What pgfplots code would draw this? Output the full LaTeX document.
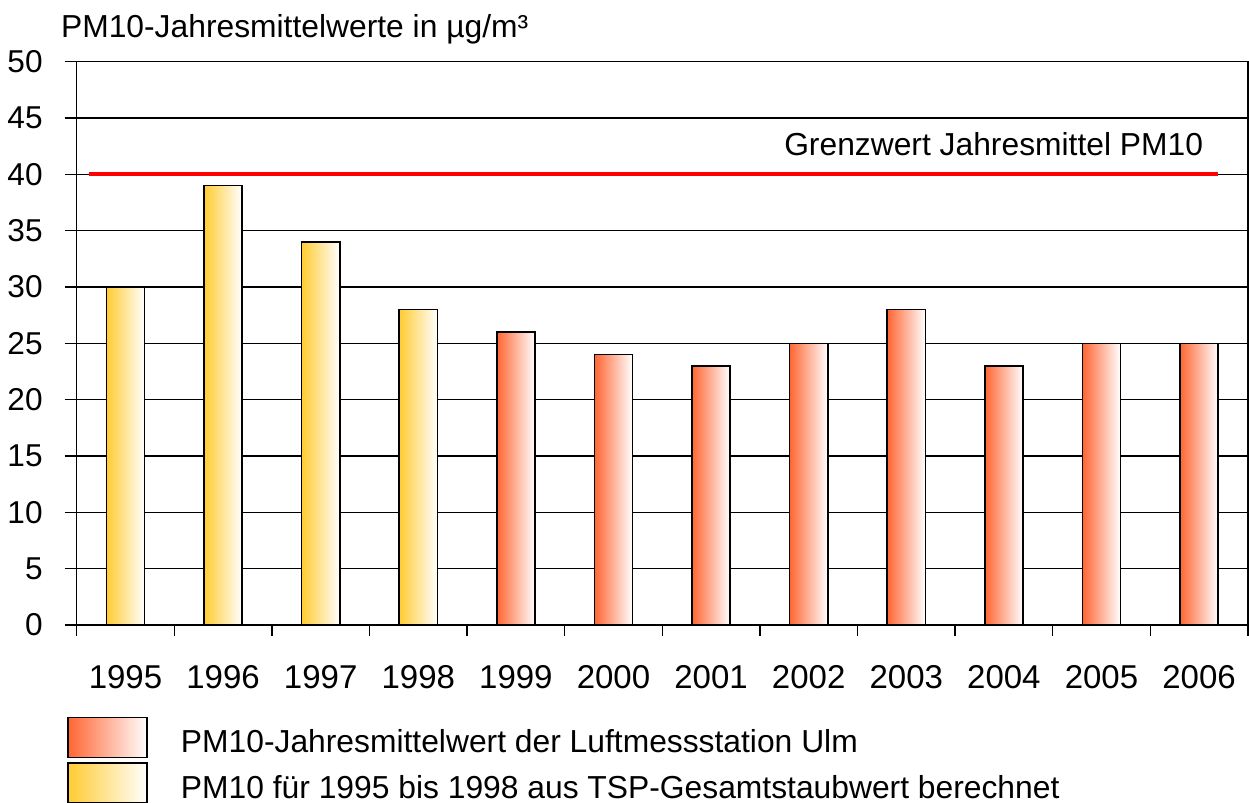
\documentclass[border=0pt]{standalone}
\usepackage{fontspec}
\setmainfont{Liberation Sans}
\usepackage{pgfplots}
\pgfplotsset{compat=1.18}
\definecolor{baror}{RGB}{255,102,51}
\definecolor{barye}{RGB}{255,204,51}
\definecolor{limred}{RGB}{255,0,0}
\pgfplotsset{
  mylegend/.style={legend image code/.code={\draw[draw=black,line width=0.8pt,left color=#1,right color=white] (0pt,-7.5pt) rectangle (39.5pt,12.5pt);}},
  orbar/.style={ybar, bar width=0.39, bar shift=0pt, draw=black, line width=0.8pt, left color=baror, right color=white, mylegend=baror},
  yebar/.style={ybar, bar width=0.39, bar shift=0pt, draw=black, line width=0.8pt, left color=barye, right color=white, mylegend=barye},
}
\begin{document}
\begin{tikzpicture}
\begin{axis}[
  scale only axis, width=585.6pt, height=281.65pt,
  clip=false,
  xmin=-0.5, xmax=11.5, ymin=0, ymax=50,
  xtick={0,...,11},
  xticklabels={1995,1996,1997,1998,1999,2000,2001,2002,2003,2004,2005,2006},
  minor xtick={-0.5,0.5,...,11.5},
  every major x tick/.append style={draw=none},
  every minor x tick/.append style={draw=black, line width=0.7pt},
  minor tick length=5.5pt,
  ytick={0,5,...,50},
  major tick length=6pt,
  tick align=outside,
  xtick pos=bottom, ytick pos=left,
  ymajorgrids, grid style={black, line width=0.7pt},
  axis line style={black, line width=0.7pt},
  tick style={black, line width=0.7pt},
  xticklabel style={font=\fontsize{16.5}{19}\selectfont, yshift=-10.5pt},
  yticklabel style={font=\fontsize{15.8}{19}\selectfont, xshift=-7.5pt},
  /pgf/number format/assume math mode=true,
  legend style={at={(rel axis cs:0,0)}, anchor=north west, xshift=-4.85pt, yshift=-45.7pt,
    draw=none, fill=none, inner sep=0pt, nodes={inner sep=0pt}, column sep=16.5pt, row sep=2pt,
    font=\fontsize{15.9}{18}\selectfont},
  legend cell align=left,
]
% PM10 Ulm (1999-2006)
\addplot[orbar] coordinates {(4,26)};
\addlegendentry{PM10-Jahresmittelwert der Luftmessstation Ulm}
\addplot[orbar, forget plot] coordinates {(5,24)};
\addplot[orbar, forget plot] coordinates {(6,23)};
\addplot[orbar, forget plot] coordinates {(7,25)};
\addplot[orbar, forget plot] coordinates {(8,28)};
\addplot[orbar, forget plot] coordinates {(9,23)};
\addplot[orbar, forget plot] coordinates {(10,25)};
\addplot[orbar, forget plot] coordinates {(11,25)};
% PM10 from TSP (1995-1998)
\addplot[yebar] coordinates {(0,30)};
\addlegendentry{PM10 für 1995 bis 1998 aus TSP-Gesamtstaubwert berechnet}
\addplot[yebar, forget plot] coordinates {(1,39)};
\addplot[yebar, forget plot] coordinates {(2,34)};
\addplot[yebar, forget plot] coordinates {(3,28)};
% limit value
\addplot[limred, line width=2pt, forget plot] coordinates {(-0.37,40) (11.19,40)};
\node[anchor=base west, inner sep=0pt, xshift=-8pt, yshift=12.35pt, font=\fontsize{15.9}{18}\selectfont] at (rel axis cs:0,1) {PM10-Jahresmittelwerte in µg/m³};
\node[anchor=base east, inner sep=0pt, font=\fontsize{15.9}{18}\selectfont] at (axis cs:11.045,41.7) {Grenzwert Jahresmittel PM10};
\end{axis}
\pgfresetboundingbox
\path[use as bounding box] ([xshift=-38.35pt,yshift=-89pt]current axis.south west) rectangle ([xshift=0.55pt,yshift=30.85pt]current axis.north east);
\end{tikzpicture}
\end{document}
